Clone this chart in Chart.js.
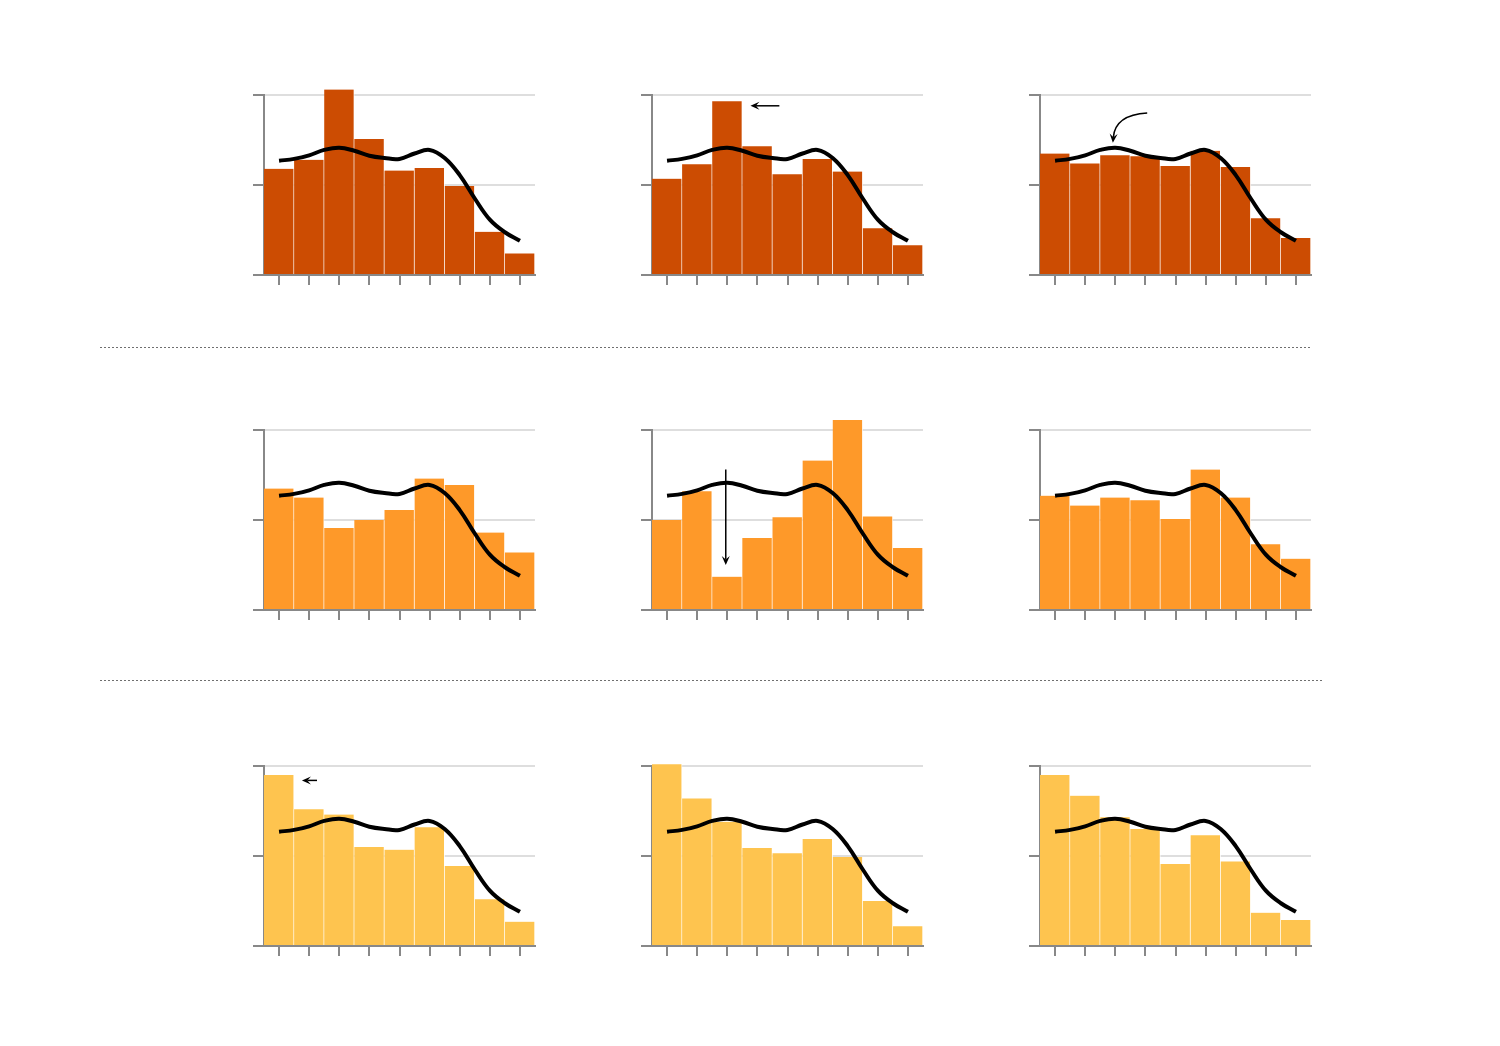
<!DOCTYPE html>
<html>
<head>
<meta charset="utf-8">
<script src="https://cdn.jsdelivr.net/npm/chart.js@4/dist/chart.umd.min.js"></script>
<style>
  body { margin: 0; background: #fff; width: 1500px; height: 1046px; position: relative; overflow: hidden; }
  .panel { position: absolute; width: 310px; height: 230px; }
  .sep { position: absolute; left: 100px; height: 1px;
         background-image: repeating-linear-gradient(to right, #6f6f6f 0 2px, transparent 2px 4px); }
</style>
</head>
<body>
<div class="sep" style="top:347px; width:1210px;"></div>
<div class="sep" style="top:680px; width:1223px;"></div>

<script>
// Bins (no labels shown on the axis)
var bins = ["1", "2", "3", "4", "5", "6", "7", "8", "9"];

// Reference curve, same in every panel (x in bin units, 0 = first bin)
var curveX = [0, 0.5, 1, 1.5, 2, 2.5, 3, 3.5, 4, 4.5, 5, 5.5, 6, 6.5, 7, 7.5, 8];
var curveY = [1.27, 1.29, 1.33, 1.39, 1.415, 1.38, 1.325, 1.30, 1.29, 1.35, 1.39, 1.30, 1.11, 0.85, 0.615, 0.475, 0.38];

// Bar heights, panel by panel (row by row)
var bars1 = [1.18, 1.28, 2.06, 1.51, 1.16, 1.19, 0.99, 0.48, 0.24];
var bars2 = [1.07, 1.23, 1.93, 1.43, 1.12, 1.29, 1.15, 0.52, 0.33];
var bars3 = [1.35, 1.24, 1.33, 1.32, 1.21, 1.38, 1.20, 0.63, 0.41];
var bars4 = [1.35, 1.25, 0.91, 1.00, 1.11, 1.46, 1.39, 0.86, 0.64];
var bars5 = [1.00, 1.32, 0.37, 0.80, 1.03, 1.66, 2.11, 1.04, 0.69];
var bars6 = [1.27, 1.16, 1.25, 1.22, 1.01, 1.56, 1.25, 0.73, 0.57];
var bars7 = [1.90, 1.52, 1.46, 1.10, 1.07, 1.32, 0.89, 0.52, 0.27];
var bars8 = [2.02, 1.64, 1.38, 1.09, 1.03, 1.19, 0.99, 0.50, 0.22];
var bars9 = [1.90, 1.67, 1.43, 1.30, 0.91, 1.23, 0.94, 0.37, 0.29];

// Annotation arrows in data units: [tailX, tailY], [headX, headY], optional control point
var arrows2 = [{ from: [3.73, 1.88], to: [2.77, 1.88] }];
var arrows3 = [{ from: [3.06, 1.80], ctrl: [2.0, 1.78], to: [1.92, 1.47] }];
var arrows5 = [{ from: [1.95, 1.56], to: [1.95, 0.50] }];
var arrows7 = [{ from: [1.26, 1.84], to: [0.76, 1.84] }];

var panels = [bars1, bars2, bars3, bars4, bars5, bars6, bars7, bars8, bars9];
var panelArrows = [[], arrows2, arrows3, [], arrows5, [], arrows7, [], []];
var rowColors = ["#cc4c02", "#fe9929", "#fec44f"];

// Plot area corners on the page
var colLeft = [264, 652, 1040];
var rowTop = [95, 430, 766];

// Draws the little arrows on top of everything
var arrowPlugin = {
  id: "arrows",
  afterDatasetsDraw: function (chart, args, opts) {
    var list = opts.list || [];
    var xs = chart.scales.x2, ys = chart.scales.y;
    var ctx = chart.ctx;
    list.forEach(function (a) {
      var x0 = xs.getPixelForValue(a.from[0]), y0 = ys.getPixelForValue(a.from[1]);
      var x1 = xs.getPixelForValue(a.to[0]), y1 = ys.getPixelForValue(a.to[1]);
      var dx, dy, cx, cy;
      if (a.ctrl) {
        cx = xs.getPixelForValue(a.ctrl[0]);
        cy = ys.getPixelForValue(a.ctrl[1]);
        dx = x1 - cx; dy = y1 - cy;
      } else {
        dx = x1 - x0; dy = y1 - y0;
      }
      var len = Math.sqrt(dx * dx + dy * dy);
      dx /= len; dy /= len;
      var hl = 9, hw = 4;
      ctx.save();
      ctx.strokeStyle = "#000";
      ctx.fillStyle = "#000";
      ctx.lineWidth = 1.5;
      ctx.beginPath();
      ctx.moveTo(x0, y0);
      if (a.ctrl) {
        ctx.quadraticCurveTo(cx, cy, x1 - dx * hl * 0.6, y1 - dy * hl * 0.6);
      } else {
        ctx.lineTo(x1 - dx * hl * 0.6, y1 - dy * hl * 0.6);
      }
      ctx.stroke();
      ctx.beginPath();
      ctx.moveTo(x1, y1);
      ctx.lineTo(x1 - dx * hl - dy * hw, y1 - dy * hl + dx * hw);
      ctx.lineTo(x1 - dx * hl * 0.6, y1 - dy * hl * 0.6);
      ctx.lineTo(x1 - dx * hl + dy * hw, y1 - dy * hl - dx * hw);
      ctx.closePath();
      ctx.fill();
      ctx.restore();
    });
  }
};

panels.forEach(function (bars, i) {
  var row = Math.floor(i / 3), col = i % 3;
  var div = document.createElement("div");
  div.className = "panel";
  div.style.left = (colLeft[col] - 30) + "px";
  div.style.top = (rowTop[row] - 30) + "px";
  var canvas = document.createElement("canvas");
  canvas.width = 310;
  canvas.height = 230;
  div.appendChild(canvas);
  document.body.appendChild(div);

  new Chart(canvas.getContext("2d"), {
    data: {
      labels: bins,
      datasets: [{
        type: "line",
        data: curveX.map(function (x, k) { return { x: x, y: curveY[k] }; }),
        xAxisID: "x2",
        borderColor: "#000",
        borderWidth: 4,
        pointRadius: 0,
        tension: 0.4,
        order: 0
      }, {
        type: "bar",
        data: bars,
        xAxisID: "x",
        backgroundColor: rowColors[row],
        borderColor: "rgba(255,255,255,0.75)",
        borderWidth: { left: 0, right: 1, top: 0, bottom: 0 },
        barPercentage: 1,
        categoryPercentage: 1,
        grouped: false,
        clip: false,
        order: 1
      }]
    },
    options: {
      responsive: false,
      animation: false,
      events: [],
      layout: { padding: { left: 19, right: 9, top: 30, bottom: 10 } },
      plugins: {
        legend: { display: false },
        tooltip: { enabled: false },
        arrows: { list: panelArrows[i] }
      },
      scales: {
        x: {
          type: "category",
          offset: true,
          z: 1,
          ticks: { display: false },
          grid: { offset: false, drawOnChartArea: false, drawTicks: true, tickLength: 10, color: "#888", lineWidth: 2 },
          border: { display: true, color: "#888", width: 2 }
        },
        x2: { type: "linear", display: false, min: -0.5, max: 8.5 },
        y: {
          min: 0,
          max: 2,
          weight: 1,
          ticks: { display: false, stepSize: 1 },
          grid: { color: "#dedede", lineWidth: 2, tickColor: "#888", tickWidth: 2, tickLength: 11 },
          border: { display: true, color: "#888", width: 2 }
        },
        // zero-width twin of y, next to the plot and drawn above the bars
        y2: {
          position: "left",
          weight: 0,
          min: 0,
          max: 2,
          z: 1,
          ticks: { display: false },
          grid: { drawOnChartArea: false, drawTicks: false },
          border: { display: true, color: "#888", width: 2 }
        }
      }
    },
    plugins: [arrowPlugin]
  });
});
</script>
</body>
</html>
